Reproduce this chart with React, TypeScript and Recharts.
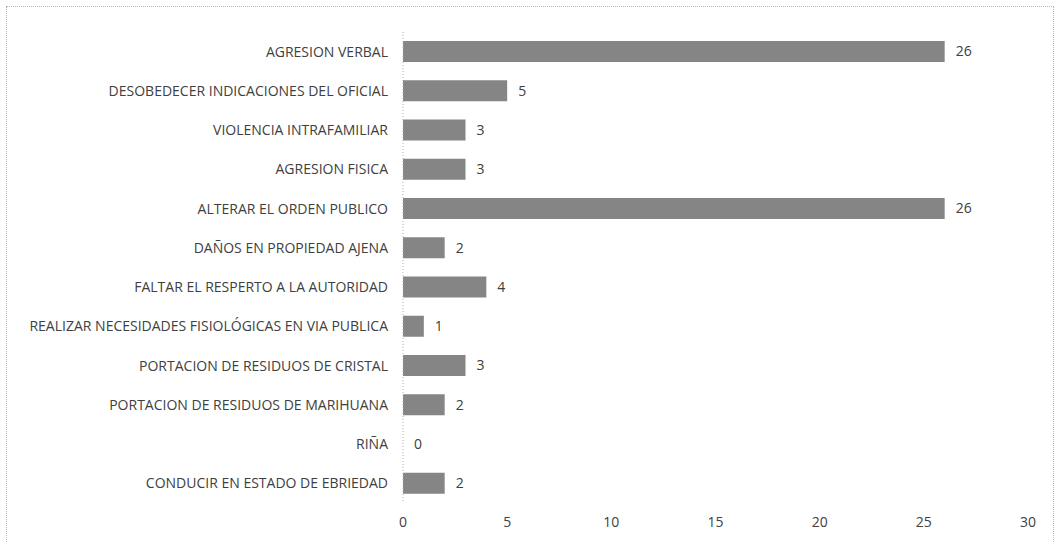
import { Bar, BarChart, XAxis, YAxis } from 'recharts';

const categories = [
  'AGRESION VERBAL',
  'DESOBEDECER INDICACIONES DEL OFICIAL',
  'VIOLENCIA INTRAFAMILIAR',
  'AGRESION FISICA',
  'ALTERAR EL ORDEN PUBLICO',
  'DAÑOS EN PROPIEDAD AJENA',
  'FALTAR EL RESPERTO A LA AUTORIDAD',
  'REALIZAR NECESIDADES FISIOLÓGICAS EN VIA PUBLICA',
  'PORTACION DE RESIDUOS DE CRISTAL',
  'PORTACION DE RESIDUOS DE MARIHUANA',
  'RIÑA',
  'CONDUCIR EN ESTADO DE EBRIEDAD',
];
const counts = [26, 5, 3, 3, 26, 2, 4, 1, 3, 2, 0, 2];
const xTicks = [0, 5, 10, 15, 20, 25, 30];

const data = categories.map((name, i) => ({ name, value: counts[i] }));

const font = "'Open Sans', 'Noto Sans', sans-serif";
const textColor = '#404040';
const fontSize = 14;

function CategoryTick({ x, y, payload }: any) {
  return (
    <text x={x} y={y} dy="0.355em" textAnchor="end" fill={textColor} fontSize={fontSize} fontFamily={font}>
      {payload.value}
    </text>
  );
}

// bar plus its value label, so that the zero bar still gets its "0"
function BarWithLabel({ x, y, width, height, value, fill }: any) {
  const w = Math.max(0, Number(width) || 0);
  const v = Array.isArray(value) ? value[1] - value[0] : value;
  return (
    <g>
      {w > 0 && <rect x={x} y={y} width={w} height={height} fill={fill} />}
      <text
        x={Number(x) + w + 11}
        y={Number(y) + Number(height) / 2}
        dy="0.355em"
        textAnchor="start"
        fill={textColor}
        fontSize={fontSize}
        fontFamily={font}
      >
        {v}
      </text>
    </g>
  );
}

export default function App() {
  return (
    <div style={{ position: 'fixed', left: 0, top: 0, width: 1057, height: 543, overflow: 'hidden', background: '#fff' }}>
      <div
        style={{
          position: 'absolute',
          left: 6,
          top: 6,
          width: 1048,
          height: 560,
          border: '1px dotted #b8b8b8',
          boxSizing: 'border-box',
        }}
      />
      <div style={{ position: 'absolute', left: 0, top: 0 }}>
        <BarChart
          width={1057}
          height={543}
          data={data}
          layout="vertical"
          margin={{ top: 32, right: 29, left: 0, bottom: 10 }}
          barSize={21}
        >
          <XAxis
            type="number"
            domain={[0, 30]}
            ticks={xTicks}
            interval={0}
            axisLine={false}
            tickLine={false}
            tickMargin={8}
            height={30}
            tick={{ fill: textColor, fontSize, fontFamily: font }}
          />
          <YAxis
            type="category"
            dataKey="name"
            width={403}
            interval={0}
            tickLine={false}
            tickMargin={9}
            axisLine={{ stroke: '#b0b0b0', strokeDasharray: '1 2' }}
            tick={<CategoryTick />}
          />
          <Bar dataKey="value" fill="#858585" isAnimationActive={false} shape={<BarWithLabel />} />
        </BarChart>
      </div>
    </div>
  );
}
